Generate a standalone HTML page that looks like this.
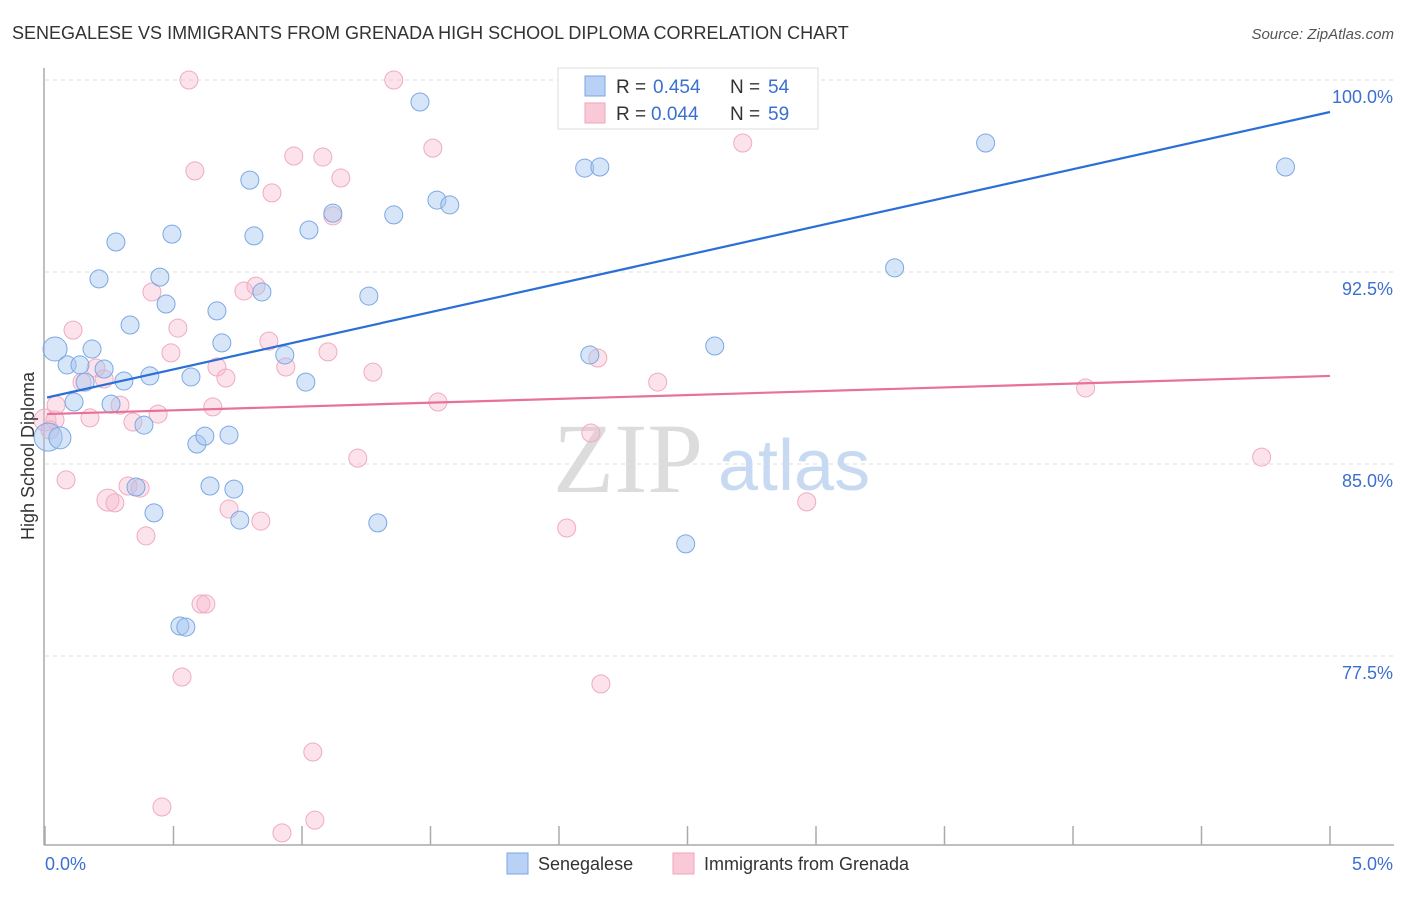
<!DOCTYPE html>
<html><head><meta charset="utf-8"><style>
body{margin:0;background:#fff;font-family:"Liberation Sans",sans-serif}
</style></head><body>
<svg id="chart" width="1406" height="892" font-family="Liberation Sans, sans-serif">
<text x="12" y="39" font-size="18" fill="#333">SENEGALESE VS IMMIGRANTS FROM GRENADA HIGH SCHOOL DIPLOMA CORRELATION CHART</text>
<text x="1394" y="39" font-size="15" fill="#555" text-anchor="end" font-style="italic">Source: ZipAtlas.com</text>
<g id="grid"></g>
<text x="553" y="492" font-size="100" fill="#dcdcdc" style="font-family:'Liberation Serif',serif">ZIP</text>
<text x="718" y="490" font-size="72" fill="#c8daf2">atlas</text>
<line x1="44" y1="68" x2="44" y2="845" stroke="#aaa" stroke-width="1.5"/>
<line x1="44" y1="845" x2="1394" y2="845" stroke="#aaa" stroke-width="1.5"/>
<g id="ticks"></g>
<g id="pts"></g>
<g id="lines"></g>
<text transform="translate(34,456) rotate(-90)" font-size="18" fill="#333" text-anchor="middle">High School Diploma</text>
<text x="45" y="870" font-size="18" fill="#3b6fd0">0.0%</text>
<text x="1393" y="870" font-size="18" fill="#3b6fd0" text-anchor="end">5.0%</text>
<g>
<rect x="558" y="68" width="260" height="61" fill="#fff" stroke="#ddd"/>
<rect x="585" y="76" width="20" height="20" fill="#b8d1f5" stroke="#7aa6e6"/>
<rect x="585" y="103" width="20" height="20" fill="#f9c9d7" stroke="#eea6bd"/>
<text x="616" y="93" font-size="19" fill="#333">R =</text>
<text x="653" y="93" font-size="19" fill="#3b6fd0">0.454</text>
<text x="730" y="93" font-size="19" fill="#333">N =</text>
<text x="768" y="93" font-size="19" fill="#3b6fd0">54</text>
<text x="616" y="120" font-size="19" fill="#333">R =</text>
<text x="651" y="120" font-size="19" fill="#3b6fd0">0.044</text>
<text x="730" y="120" font-size="19" fill="#333">N =</text>
<text x="768" y="120" font-size="19" fill="#3b6fd0">59</text>
</g>
<g><rect x="507" y="853" width="21" height="21" fill="#b8d1f5" stroke="#7aa6e6"/><text x="538" y="870" font-size="18" fill="#333">Senegalese</text></g>
<g><rect x="673" y="853" width="21" height="21" fill="#f9c9d7" stroke="#eea6bd"/><text x="704" y="870" font-size="18" fill="#333">Immigrants from Grenada</text></g>
</svg>
<script>
const yTicks=[100,92.5,85,77.5];
const yTickLabels=["100.0%","92.5%","85.0%","77.5%"];
const xTickVals=[0,0.5,1,1.5,2,2.5,3,3.5,4,4.5,5];
const blueX=[.039,.012,.058,.086,.136,.183,.113,.156,.230,.257,.307,.408,.385,.210,.276,.331,.447,.471,.494,.568,.591,.622,.642,.669,.688,.716,.735,.758,.424,.354,.525,.548,.797,.813,.844,.933,1.015,1.027,1.120,1.260,1.295,1.357,1.459,1.525,1.575,2.100,2.159,2.120,2.493,2.606,2.695,3.306,3.660,4.827];
const blueY=[89.49,86.05,86.02,88.87,88.87,89.49,87.42,88.20,88.71,87.34,88.24,88.44,86.52,92.23,93.67,90.43,92.30,91.25,93.98,88.40,85.78,86.09,84.14,90.98,89.73,86.13,84.02,82.81,83.09,84.10,78.67,78.63,96.09,93.91,91.72,89.26,88.20,94.14,94.80,91.56,82.70,94.73,99.14,95.31,95.12,96.56,96.60,89.26,81.88,89.61,100.0,92.66,97.54,96.60];
const blueSize=[12,14,11];
const pinkX=[0,.039,.019,.043,.109,.082,.144,.175,.198,.230,.245,.272,.292,.323,.370,.342,.393,.416,.440,.490,.517,.533,.560,.583,.607,.626,.455,.653,.669,.704,.716,.774,.821,.840,.871,.883,.937,.968,.922,1.042,1.050,1.081,1.101,1.120,1.151,1.217,1.276,1.357,1.509,1.529,2.030,2.124,2.151,2.163,2.384,2.715,2.964,4.049,4.734];
const pinkY=[86.72,86.72,86.33,87.30,90.23,84.38,88.20,86.80,88.75,88.32,83.59,83.48,87.30,84.14,84.06,86.64,82.19,91.72,86.95,89.34,90.31,76.68,100.0,96.45,79.53,79.53,71.60,87.23,88.79,88.36,83.24,91.76,91.95,82.77,89.80,95.59,88.79,97.03,70.59,73.75,71.09,96.99,89.38,94.69,96.17,85.23,88.59,100.0,97.34,87.42,82.50,86.21,89.14,76.41,88.20,97.54,83.52,87.97,85.27];
const pinkSize=[11,9,9,9,9,9,9,9,9,9,11];
const blueLine=[87.58,98.75];
const pinkLine=[86.95,88.44];
const X=v=>45+v*257;
const Y=v=>80+(100-v)*25.6;
const NS="http://www.w3.org/2000/svg";
function mk(tag,attrs,parent){const e=document.createElementNS(NS,tag);for(const k in attrs)e.setAttribute(k,attrs[k]);document.getElementById(parent).appendChild(e);return e;}
yTicks.forEach((t,i)=>{
 const l=mk('line',{x1:45,x2:1394,y1:Y(t),y2:Y(t),stroke:'#ddd','stroke-dasharray':'4,4'},'grid');
 
 
 const tx=mk('text',{x:1393,y:Y(t)+23,'font-size':18,fill:'#3b6fd0','text-anchor':'end'},'grid');
 tx.textContent=yTickLabels[i];
 
 
});
xTickVals.forEach(v=>{
 const l=mk('line',{x1:X(v),x2:X(v),y1:826,y2:845,stroke:'#aaa','stroke-width':1.5},'ticks');
 
 
});
pinkX.forEach((v,i)=>{
 const c=mk('circle',{cx:X(v),cy:Y(pinkY[i]),r:pinkSize[i]||9,fill:'rgba(248,185,205,0.4)',stroke:'#efabc0','stroke-width':1},'pts');
 
 
});
blueX.forEach((v,i)=>{
 const c=mk('circle',{cx:X(v),cy:Y(blueY[i]),r:blueSize[i]||9,fill:'rgba(165,198,240,0.45)',stroke:'#7ba8e4','stroke-width':1},'pts');
 
 
});
const bl=mk('line',{x1:X(0.008),y1:Y(blueLine[0]+(blueLine[1]-blueLine[0])*0.0016),x2:X(5),y2:Y(blueLine[1]),stroke:'#2a6fd6','stroke-width':2.2},'lines');


const pl=mk('line',{x1:X(0.008),y1:Y(pinkLine[0]),x2:X(5),y2:Y(pinkLine[1]),stroke:'#e8719a','stroke-width':2.2},'lines');


</script>
</body></html>
